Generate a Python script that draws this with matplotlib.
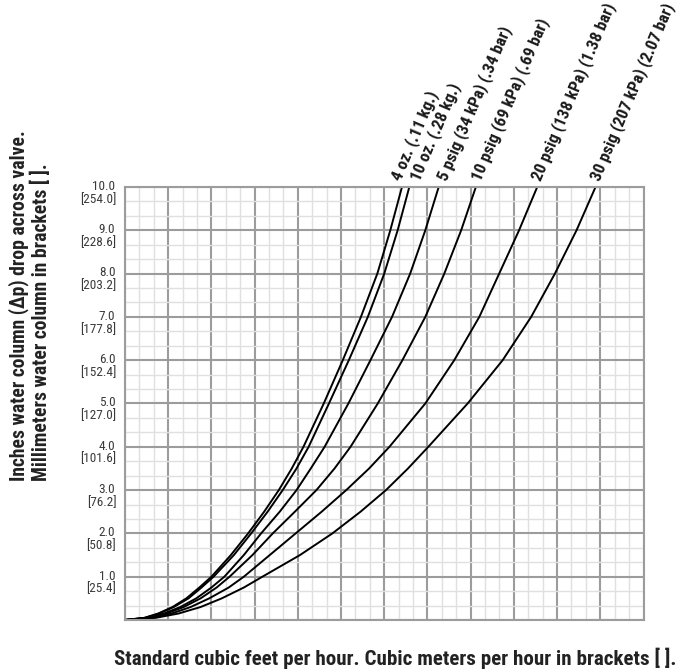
import os
import matplotlib
matplotlib.use("Agg")
import matplotlib.pyplot as plt
import matplotlib.font_manager as fm
from matplotlib.ticker import MultipleLocator

# ---- data (x = flow, y = pressure drop, inches w.c.) ----
dp_levels = [0, 0.05, 0.15, 0.3, 0.5, 0.75, 1, 1.5, 2, 2.5, 3, 3.5, 4, 5, 6, 7, 8, 9, 10]
flow_4oz   = [0, 0.45, 0.77, 1.10, 1.42, 1.72, 2.00, 2.45, 2.85, 3.22, 3.56, 3.86, 4.13, 4.60, 5.04, 5.46, 5.84, 6.14, 6.41]
flow_10oz  = [0, 0.46, 0.79, 1.13, 1.47, 1.77, 2.05, 2.52, 2.92, 3.30, 3.65, 3.97, 4.25, 4.72, 5.18, 5.62, 6.00, 6.31, 6.58]
flow_5psi  = [0, 0.52, 0.90, 1.28, 1.65, 2.00, 2.30, 2.75, 3.15, 3.58, 3.97, 4.30, 4.62, 5.17, 5.68, 6.18, 6.60, 6.95, 7.26]
flow_10psi = [0, 0.56, 0.96, 1.36, 1.75, 2.12, 2.42, 2.95, 3.42, 3.93, 4.43, 4.85, 5.22, 5.85, 6.42, 6.95, 7.39, 7.78, 8.12]
flow_20psi = [0, 0.62, 1.08, 1.52, 1.95, 2.40, 2.75, 3.35, 3.95, 4.55, 5.12, 5.65, 6.12, 6.95, 7.62, 8.20, 8.66, 9.12, 9.54]
flow_30psi = [0, 0.71, 1.24, 1.75, 2.24, 2.75, 3.18, 4.05, 4.80, 5.45, 6.04, 6.55, 7.02, 7.93, 8.74, 9.40, 9.95, 10.45, 10.89]
series_labels = ["4 oz. (.11 kg.)", "10 oz. (.28 kg.)", "5 psig (34 kPa) (.34 bar)",
                 "10 psig (69 kPa) (.69 bar)", "20 psig (138 kPa) (1.38 bar)",
                 "30 psig (207 kPa) (2.07 bar)"]
ytick_in = [1.0, 2.0, 3.0, 4.0, 5.0, 6.0, 7.0, 8.0, 9.0, 10.0]
ytick_mm = ["[25.4]", "[50.8]", "[76.2]", "[101.6]", "[127.0]", "[152.4]",
            "[177.8]", "[203.2]", "[228.6]", "[254.0]"]
x_max = 12
y_max = 10
ylabel_lines = ["Inches water column (\u0394p) drop across valve.",
                "Millimeters water column in brackets [ ]."]
xlabel_text = "Standard cubic feet per hour. Cubic meters per hour in brackets [ ]."

# label start positions (layout, in axis units) so the rotated labels don't collide
label_x = [6.28, 6.72, 7.33, 8.13, 9.52, 10.88]
label_y = 10.17


# ---- pick a condensed sans font if one is installed ----
def find_condensed(bold):
    prefs = ["liberation sans narrow", "arial narrow", "roboto condensed",
             "dejavu sans condensed", "noto sans condensed", "noto sans",
             "open sans condensed", "open sans", "dejavu sans", "lato", "inter"]
    best = None
    for f in fm.fontManager.ttflist:
        fn = os.path.basename(f.fname).lower()
        nm = f.name.lower()
        full = fn + " " + nm
        if "italic" in full or "oblique" in full or f.style != "normal":
            continue
        if not ("condensed" in full or "narrow" in full or
                f.stretch in ("condensed", "semi-condensed")):
            continue
        if "extra" in fn or "ultra" in fn or "extracond" in full:
            continue
        w = f.weight if isinstance(f.weight, int) else {"bold": 700, "normal": 400, "regular": 400}.get(str(f.weight).lower(), 400)
        if bold and ("bold" not in fn and w < 600):
            continue
        if bold and ("extrabold" in fn or "semibold" in fn or "black" in fn):
            continue
        if not bold and ("bold" in fn or "light" in fn or "thin" in fn or "medium" in fn or "black" in fn or w >= 600):
            continue
        rank = len(prefs)
        for i, p in enumerate(prefs):
            if nm.startswith(p) or p.replace(" ", "") in fn.replace("-", ""):
                rank = i
                break
        semi = 1 if "semi" in full else 0
        key = (semi, rank)
        if best is None or key < best[0]:
            best = (key, f.fname)
    if best is None:
        return fm.FontProperties(family=["Liberation Sans", "DejaVu Sans"],
                                 weight="bold" if bold else "normal")
    return fm.FontProperties(fname=best[1])


FP_BOLD = find_condensed(True)
FP_REG = find_condensed(False)

fig = plt.figure(figsize=(6.79, 6.72), dpi=100)
renderer = fig.canvas.get_renderer()


def fit_size(text, fp, target_px):
    t = fig.text(0, 0, text, fontproperties=fp, fontsize=10)
    w = t.get_window_extent(renderer).width
    t.remove()
    return 10.0 * target_px / w


ax = fig.add_axes([125/679, 1-620/672, (643.5-125)/679, (620-187)/672])
ax.set_xlim(0, x_max)
ax.set_ylim(0, y_max)

ax.xaxis.set_major_locator(MultipleLocator(1))
ax.xaxis.set_minor_locator(MultipleLocator(1/3))
ax.yaxis.set_major_locator(MultipleLocator(1))
ax.yaxis.set_minor_locator(MultipleLocator(1/3))
ax.grid(which="minor", color="#e0e0e0", lw=1.0)
ax.grid(which="major", color="#9c9c9c", lw=1.5)
ax.set_axisbelow(True)
ax.tick_params(which="both", length=0, labelbottom=False, labelleft=False)
for s in ax.spines.values():
    s.set_color("#9c9c9c")
    s.set_linewidth(1.5)

series = [flow_4oz, flow_10oz, flow_5psi, flow_10psi, flow_20psi, flow_30psi]
lab_size = fit_size(series_labels[-1], FP_BOLD, 192)
for flows, lab, lx in zip(series, series_labels, label_x):
    ax.plot(flows, dp_levels, color="black", lw=1.4, solid_joinstyle="round")
    ax.text(lx, label_y, lab, rotation=67, rotation_mode="anchor",
            ha="left", va="center", fontproperties=FP_BOLD, fontsize=lab_size,
            color="#1a1a1a", clip_on=False)

tick_size = fit_size("[254.0]", FP_REG, 36)
for v, mm in zip(ytick_in, ytick_mm):
    ax.annotate(f"{v:.1f}", xy=(0, v), xytext=(-7, 0.5), textcoords="offset points",
                ha="right", va="center", fontproperties=FP_REG, fontsize=tick_size,
                color="#3a3a3a", annotation_clip=False)
    ax.annotate(mm, xy=(0, v), xytext=(-6.3, -8.8), textcoords="offset points",
                ha="right", va="center", fontproperties=FP_REG, fontsize=tick_size,
                color="#3a3a3a", annotation_clip=False)

yl_size = fit_size(ylabel_lines[0], FP_BOLD, 350)
fig.text(18.5/679, 1-481/672, ylabel_lines[0], rotation=90, ha="center", va="bottom",
         fontproperties=FP_BOLD, fontsize=yl_size, color="#222222")
fig.text(41/679, 1-481/672, ylabel_lines[1], rotation=90, ha="center", va="bottom",
         fontproperties=FP_BOLD, fontsize=yl_size, color="#222222")

xl_size = fit_size(xlabel_text, FP_BOLD, 564)
fig.text(395/679, 1-658/672, xlabel_text, ha="center", va="center",
         fontproperties=FP_BOLD, fontsize=xl_size, color="#222222")

fig.savefig("out.png", dpi=100)
